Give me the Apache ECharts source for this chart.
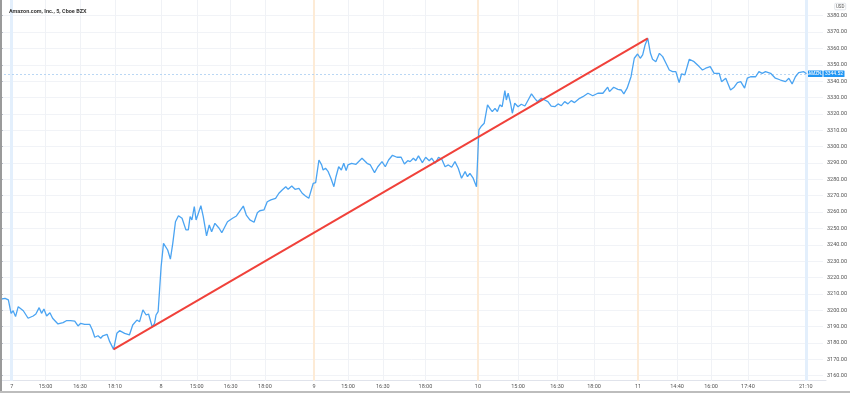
<!DOCTYPE html>
<html>
<head>
<meta charset="utf-8">
<script src="https://cdn.jsdelivr.net/npm/echarts@6/dist/echarts.min.js"></script>
<style>
html,body{margin:0;padding:0;background:#fff;}
#chart{width:850px;height:393px;}
</style>
</head>
<body>
<div id="chart"></div>
<script>
// Bar positions (5-min bar index) and AMZN prices
const barIdx = [0,1.7,2.8,3.7,4.4,5.2,6.1,7.8,9.4,11.1,12,13.1,13.9,14.7,15.6,16.7,17.6,19.4,21.1,22.2,23.6,25,26.1,27,28.3,30,30.9,31.7,32.8,33.7,34.4,35.8,36.7,38,39.1,40,41.7,43.3,44.4,45.8,46.7,47.8,48.9,49.7,50.9,51.7,52.2,52.9,53.9,54.7,55.3,56.1,57,57.8,58.7,59.7,60.9,62.2,63,63.6,64.2,65,65.6,67.2,68,69.1,70,70.8,71.9,73.3,74.2,76.1,77.8,79.1,81.4,82.4,83.6,85,86.1,86.9,88.3,89.4,90.6,92.2,93.3,94.4,95.6,96.4,97.6,98.7,100,101.1,102.2,103.3,103.9,104.8,105.6,106.7,107.6,108.1,108.9,109.8,110.7,111.7,112.4,113.3,114.2,115,115.8,116.4,117.6,119.1,121.1,122.8,123.9,125.3,126.4,127.8,128.9,130,131.3,132.8,134.2,135.3,136.4,137.2,138.3,139.1,140,141.3,142.4,143.6,144.4,145.6,146.7,147.8,148.9,150,151.1,152.2,153.3,154.4,155.6,156.4,157.2,158.3,159.4,160.2,161.1,162,163.1,164.1,164.7,165.6,166.4,167.2,168,168.9,169.4,170,170.8,171.4,172.2,173.3,174.4,175.6,176.7,177.8,178.9,179.8,181.1,182.2,183.3,184.4,185.6,186.7,187.8,188.9,190,191.1,192.2,193.9,195,196.7,198.3,200,201.7,203.3,203.9,205.3,206.7,207.8,208.7,209.8,211.1,212.2,213.3,214.2,215,215.8,216.7,217.6,218.3,219.4,220.6,221.7,222.8,223.9,225,226.1,227.2,228,229.1,230.6,232.2,233.9,235,236.1,237.6,238.9,240.6,241.4,242.8,244.4,245.6,246.7,247.8,249.1,250,251.1,252.8,253.9,255,256.1,257.8,259.4,261.1,262.8,263.9,265,266.1,267.2,268.9,269.8];
const price = [3206.7,3207.3,3206.3,3198.1,3199.7,3196.1,3202.2,3199.7,3195.1,3196.5,3197.7,3201.6,3198.1,3200.8,3196.5,3198.5,3195.1,3191.6,3192.4,3193.6,3193.6,3193.4,3190.4,3192.0,3191.4,3191.4,3187.9,3183.5,3184.4,3182.9,3184.4,3185.3,3180.8,3176.1,3185.9,3187.5,3185.9,3184.9,3191.0,3194.0,3193.0,3200.2,3197.1,3197.7,3189.9,3192.0,3197.1,3199.1,3226.6,3240.9,3241.9,3236.8,3231.3,3240.9,3254.1,3257.8,3256.2,3249.1,3249.1,3257.2,3255.2,3263.3,3255.2,3263.9,3257.2,3245.4,3252.1,3248.0,3253.1,3250.1,3247.4,3254.1,3256.2,3257.6,3263.7,3258.2,3255.2,3253.8,3259.6,3260.8,3261.3,3266.3,3267.4,3268.4,3271.5,3273.5,3275.5,3273.9,3275.9,3273.9,3274.5,3271.5,3269.8,3268.4,3267.4,3277.6,3278.0,3291.8,3288.8,3285.7,3286.8,3284.7,3280.7,3275.5,3281.6,3287.7,3285.7,3289.8,3285.3,3288.8,3289.8,3289.2,3292.9,3289.8,3288.8,3284.1,3287.7,3290.8,3287.7,3291.8,3294.7,3293.5,3293.5,3289.4,3291.4,3290.8,3292.9,3291.4,3294.3,3290.2,3293.5,3291.4,3292.9,3289.8,3293.5,3292.3,3287.7,3288.8,3287.4,3290.8,3286.8,3280.7,3284.7,3281.6,3283.7,3280.7,3275.5,3310.2,3312.6,3314.3,3325.5,3322.8,3321.4,3323.4,3321.4,3325.5,3324.4,3334.2,3328.5,3332.6,3326.5,3320.4,3326.5,3324.4,3325.9,3324.8,3328.5,3332.2,3329.5,3327.5,3329.5,3328.5,3327.5,3324.8,3324.4,3326.1,3325.0,3327.5,3326.1,3328.1,3326.9,3329.5,3330.5,3332.6,3331.1,3332.6,3332.6,3336.3,3333.6,3336.3,3335.0,3334.6,3332.2,3335.7,3342.7,3354.0,3356.6,3354.0,3356.0,3362.1,3366.2,3357.0,3353.4,3351.9,3357.0,3355.0,3350.9,3346.8,3345.8,3345.8,3339.1,3344.4,3343.8,3353.4,3351.9,3348.9,3346.8,3347.9,3348.9,3344.8,3344.8,3339.7,3341.8,3334.6,3336.3,3339.1,3339.7,3335.7,3341.8,3342.7,3342.7,3345.8,3344.8,3345.8,3344.8,3341.8,3340.7,3339.7,3341.8,3338.3,3342.7,3345.2,3345.8,3344.5];
// Trend line drawn on the chart (start / end)
const trendBars = [38, 216.7];
const trendPrices = [3176.1, 3366.2];
const lastPrice = 3344.52;
const symbolName = 'AMZN';
// X-axis tick labels and their bar positions
const tickBars = [3.9,15.2,26.7,38.3,53.7,65.6,76.9,88.3,104.7,116,127.6,141.8,159.3,172.7,185.7,198,212.7,225.7,237,249.3,268.6];
const tickLabels = ['7','15:00','16:30','18:10','8','15:00','16:30','18:00','9','15:00','16:30','18:00','10','15:00','16:30','18:00','11','14:40','16:00','17:40','21:10'];
const daySeparators = ['9','10','11'];
const yMin = 3160, yMax = 3380, yStep = 10;

const chart = echarts.init(document.getElementById('chart'), null, {renderer: 'canvas'});
const priceData = barIdx.map((b, i) => [b, price[i]]);
const trendData = trendBars.map((b, i) => [b, trendPrices[i]]);
const xMax = 275.33;

const vLines = tickBars.map((b, i) => {
  const lab = tickLabels[i];
  let ls = {color: '#f0f2f6', width: 1, type: 'solid'};
  if (daySeparators.indexOf(lab) >= 0) ls = {color: '#fdebd6', width: 2, type: 'solid'};
  if (lab === '7' || lab === '21:10') ls = {color: '#e3effc', width: 3, type: 'solid'};
  return {xAxis: b, lineStyle: ls};
});

const labelFont = {fontFamily: 'Roboto, "Liberation Sans", sans-serif', fontSize: 5.5, color: '#555'};

chart.setOption({
  animation: false,
  backgroundColor: '#ffffff',
  title: {
    text: 'Amazon.com, Inc., 5, Cboe BZX',
    left: 4, top: 4,
    textStyle: {fontFamily: 'Roboto, "Liberation Sans", sans-serif', fontSize: 5.5, fontWeight: 'bold', color: '#3a3a3a'}
  },
  grid: [
    {left: 0, right: 24, top: 15.7, height: 360},
    {left: 0, right: 24, top: 0, bottom: 12.3}
  ],
  xAxis: [
    {gridIndex: 0, type: 'value', min: 0, max: xMax, show: false, splitLine: {show: false}},
    {gridIndex: 1, type: 'value', min: 0, max: xMax,
     axisLine: {show: true, lineStyle: {color: '#e0e3eb', width: 1}},
     axisTick: {show: false},
     splitLine: {show: false},
     axisLabel: Object.assign({customValues: tickBars, margin: 3,
       formatter: v => { const i = tickBars.indexOf(v); return i >= 0 ? tickLabels[i] : ''; }}, labelFont)}
  ],
  yAxis: [
    {gridIndex: 0, type: 'value', position: 'right', min: yMin, max: yMax, interval: yStep,
     axisLine: {show: false},
     axisTick: {show: true, length: 3, lineStyle: {color: '#b8bcc6'}},
     splitLine: {show: true, lineStyle: {color: '#f1f3f7', width: 1}},
     axisLabel: Object.assign({margin: 4, formatter: v => v.toFixed(2)}, labelFont)},
    {gridIndex: 1, type: 'value', position: 'right', min: 0, max: 1,
     axisLine: {show: true, lineStyle: {color: '#e0e3eb', width: 1}},
     axisTick: {show: false}, axisLabel: {show: false}, splitLine: {show: false}}
  ],
  series: [
    {
      name: 'grid', type: 'line', xAxisIndex: 1, yAxisIndex: 1, data: [[0, 0]],
      symbol: 'none', lineStyle: {opacity: 0}, silent: true, z: 0, zlevel: 0,
      markLine: {silent: true, symbol: 'none', label: {show: false}, data: vLines, animation: false}
    },
    {
      name: 'AMZN', type: 'line', xAxisIndex: 0, yAxisIndex: 0, data: priceData,
      symbol: 'none', smooth: false, zlevel: 1,
      lineStyle: {color: '#4ba4f2', width: 1.3}, z: 3,
      markLine: {
        silent: true, symbol: 'none', animation: false,
        lineStyle: {color: '#a9cdf2', type: [2, 2], width: 0.8},
        label: {show: false},
        data: [{yAxis: lastPrice}]
      }
    },
    {
      name: 'trend', type: 'line', xAxisIndex: 0, yAxisIndex: 0, data: trendData,
      symbol: 'none', lineStyle: {color: '#f0413a', width: 2}, z: 4, zlevel: 1
    }
  ]
});

// Price tag boxes on the right axis, placed at the last price via the axis scale
const py = chart.convertToPixel({yAxisIndex: 0}, lastPrice);
const axisX = chart.convertToPixel({xAxisIndex: 0}, xMax);
chart.setOption({
  graphic: [
    {type: 'rect', shape: {x: 0, y: 0, width: 2, height: 393}, style: {fill: '#9a9a9a'}, z: 100, zlevel: 2},
    {type: 'rect', shape: {x: 0, y: 391, width: 850, height: 2}, style: {fill: '#bdbdbd'}, z: 100, zlevel: 2},
    {type: 'group', right: 4, top: 3, children: [
      {type: 'rect', shape: {x: 0, y: 0, width: 11, height: 6.5, r: 1}, style: {fill: '#fff', stroke: '#cfd3db', lineWidth: 0.6}},
      {type: 'text', x: 5.5, y: 3.4, style: {text: 'USD', fontSize: 4.5, fill: '#555', align: 'center', verticalAlign: 'middle', fontFamily: 'Roboto, sans-serif'}}
    ]},
    {type: 'group', x: axisX, y: py, zlevel: 2, children: [
      {type: 'rect', shape: {x: -16, y: -3.3, width: 15.5, height: 6.6, r: 0.5}, style: {fill: '#2196f3'}},
      {type: 'text', x: -8.2, y: 0.2, style: {text: symbolName, fontSize: 4.6, fill: '#fff', align: 'center', verticalAlign: 'middle', fontFamily: 'Roboto, sans-serif'}},
      {type: 'rect', shape: {x: 0.5, y: -3.3, width: 21, height: 6.6, r: 0.5}, style: {fill: '#2196f3'}},
      {type: 'text', x: 11, y: 0.2, style: {text: lastPrice.toFixed(2), fontSize: 5, fill: '#fff', align: 'center', verticalAlign: 'middle', fontFamily: 'Roboto, sans-serif'}}
    ]}
  ]
});
</script>
</body>
</html>
